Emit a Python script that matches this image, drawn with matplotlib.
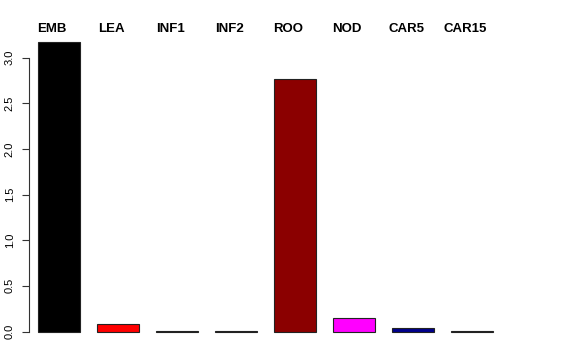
import numpy as np
import matplotlib
matplotlib.use("Agg")
import matplotlib.pyplot as plt
import matplotlib.transforms as transforms

plt.rcParams['font.family'] = ['Liberation Sans', 'DejaVu Sans']

# data
groups = ['EMB', 'LEA', 'INF1', 'INF2', 'ROO', 'NOD', 'CAR5', 'CAR15']
values = [3.17, 0.08, 0.004, 0.003, 2.77, 0.15, 0.04, 0.003]
bar_colors = ['black', 'red', 'darkgreen', 'darkslateblue', 'darkred', 'magenta', 'darkblue', 'gray']
yticks = [0.0, 0.5, 1.0, 1.5, 2.0, 2.5, 3.0]

W, H = 576, 360
fig = plt.figure(figsize=(W / 100, H / 100), dpi=100)

# pixel layout (R barplot look, space = 0.4)
ax_left, ax_right, ax_top, ax_bottom = 29.3, 520, 20, 345
ax = fig.add_axes([ax_left / W, (H - ax_bottom) / H,
                   (ax_right - ax_left) / W, (ax_bottom - ax_top) / H])

space = 0.4
x = space + np.arange(len(groups)) * (1 + space) + 0.5
ax.bar(x, values, width=1, color=bar_colors, edgecolor='#222222', linewidth=0.8)

px_per_unit_x = 59 / (1 + space)
x0 = space - (38 - ax_left) / px_per_unit_x
ax.set_xlim(x0, x0 + (ax_right - ax_left) / px_per_unit_x)
px_per_unit_y = 91.3
zero_px = 331.5
ax.set_ylim(-(ax_bottom - zero_px) / px_per_unit_y, (zero_px - ax_top) / px_per_unit_y)

for s in ['top', 'right', 'bottom']:
    ax.spines[s].set_visible(False)
ax.spines['left'].set_bounds(yticks[0], yticks[-1])
ax.spines['left'].set_linewidth(0.8)
ax.spines['left'].set_color('#333333')
ax.set_xticks([])
ax.set_yticks(yticks)
ax.set_yticklabels(['%.1f' % t for t in yticks], rotation=90, va='center', fontsize=8)
ax.tick_params(axis='y', length=5, width=0.8, color='#333333', pad=5.5)

# group labels along the top
trans = transforms.blended_transform_factory(ax.transData, ax.transAxes)
label_y = (ax_bottom - 29.5) / (ax_bottom - ax_top)
for xi, g in zip(x, groups):
    ax.text(xi - 7 / px_per_unit_x, label_y, g, transform=trans, ha='center', va='center',
            fontsize=9.5, fontweight='bold')

fig.savefig('out.png', dpi=100)
